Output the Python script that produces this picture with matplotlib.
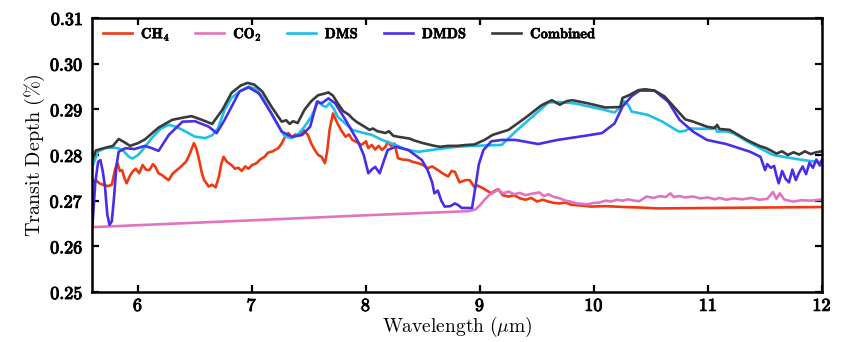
import matplotlib
matplotlib.use("Agg")
import matplotlib.pyplot as plt
import matplotlib.patheffects as pe
from matplotlib.ticker import FuncFormatter

plt.rcParams['mathtext.fontset'] = 'cm'
plt.rcParams['font.family'] = ['DejaVu Serif']

# ---------------- data ----------------
combined_x = [5.60, 5.63, 5.70, 5.78, 5.83, 5.88, 5.93, 6.00, 6.06, 6.18, 6.30, 6.40, 6.47, 6.56, 6.65,
              6.74, 6.82, 6.90, 6.96, 7.02, 7.09, 7.17, 7.26, 7.30, 7.33, 7.36, 7.40, 7.46, 7.52, 7.58,
              7.63, 7.67, 7.71, 7.75, 7.80, 7.85, 7.88, 7.92, 7.96, 8.00, 8.03, 8.06, 8.10, 8.14, 8.17,
              8.20, 8.24, 8.28, 8.33, 8.38, 8.42, 8.46, 8.50, 8.55, 8.60, 8.65, 8.72, 8.80, 8.88, 8.95,
              9.04, 9.11, 9.25, 9.39, 9.54, 9.63, 9.70, 9.76, 9.81, 9.95, 10.10, 10.23, 10.25, 10.30,
              10.39, 10.45, 10.53, 10.62, 10.71, 10.80, 10.87, 10.99, 11.06, 11.08, 11.10, 11.19, 11.34,
              11.45, 11.51, 11.55, 11.60, 11.65, 11.70, 11.75, 11.80, 11.85, 11.90, 11.95, 12.00]
combined_y = [0.2790, 0.2810, 0.2815, 0.2820, 0.2835, 0.2828, 0.2820, 0.2826, 0.2834, 0.2860, 0.2877,
              0.2882, 0.2885, 0.2877, 0.2868, 0.2899, 0.2936, 0.2952, 0.2958, 0.2954, 0.2939, 0.2906,
              0.2873, 0.2876, 0.2868, 0.2874, 0.2870, 0.2899, 0.2918, 0.2931, 0.2934, 0.2937, 0.2930,
              0.2914, 0.2896, 0.2888, 0.2880, 0.2872, 0.2866, 0.2860, 0.2855, 0.2858, 0.2852, 0.2850,
              0.2848, 0.2852, 0.2842, 0.2840, 0.2838, 0.2836, 0.2832, 0.2829, 0.2826, 0.2823, 0.2820,
              0.2818, 0.2820, 0.2820, 0.2822, 0.2823, 0.2833, 0.2844, 0.2855, 0.2880, 0.2909, 0.2920,
              0.2910, 0.2918, 0.2920, 0.2913, 0.2904, 0.2905, 0.2925, 0.2930, 0.2942, 0.2944, 0.2941,
              0.2928, 0.2903, 0.2878, 0.2873, 0.2862, 0.2859, 0.2866, 0.2857, 0.2855, 0.2833, 0.2820,
              0.2815, 0.2810, 0.2803, 0.2808, 0.2800, 0.2806, 0.2801, 0.2808, 0.2802, 0.2806, 0.2808]

dms_x = [5.60, 5.65, 5.71, 5.80, 5.86, 5.92, 5.95, 6.00, 6.04, 6.12, 6.20, 6.27, 6.33, 6.39, 6.50,
         6.59, 6.65, 6.70, 6.76, 6.82, 6.89, 6.97, 7.03, 7.09, 7.20, 7.29, 7.35, 7.40, 7.46, 7.52,
         7.58, 7.62, 7.65, 7.68, 7.72, 7.75, 7.88, 7.95, 8.05, 8.15, 8.26, 8.35, 8.46, 8.55, 8.69,
         8.80, 8.93, 9.19, 9.31, 9.46, 9.60, 9.70, 9.83, 10.07, 10.18, 10.23, 10.26, 10.30, 10.33,
         10.47, 10.60, 10.71, 10.75, 10.80, 10.84, 11.04, 11.06, 11.08, 11.15, 11.22, 11.37, 11.57,
         11.78, 11.95, 12.00]
dms_y = [0.2775, 0.2808, 0.2815, 0.2816, 0.2812, 0.2796, 0.2792, 0.2800, 0.2811, 0.2837, 0.2858,
         0.2866, 0.2862, 0.2855, 0.2840, 0.2837, 0.2843, 0.2858, 0.2899, 0.2925, 0.2939, 0.2950,
         0.2945, 0.2928, 0.2877, 0.2840, 0.2837, 0.2844, 0.2862, 0.2884, 0.2917, 0.2908, 0.2905,
         0.2914, 0.2900, 0.2884, 0.2855, 0.2850, 0.2844, 0.2832, 0.2822, 0.2812, 0.2807, 0.2810,
         0.2815, 0.2818, 0.2820, 0.2822, 0.2851, 0.2884, 0.2915, 0.2916, 0.2913, 0.2900, 0.2893,
         0.2905, 0.2918, 0.2910, 0.2895, 0.2888, 0.2873, 0.2856, 0.2851, 0.2853, 0.2858, 0.2857,
         0.2862, 0.2851, 0.2852, 0.2848, 0.2826, 0.2800, 0.2791, 0.2785, 0.2784]

dmds_x = [5.600, 5.625, 5.650, 5.670, 5.690, 5.710, 5.730, 5.750, 5.770, 5.790, 5.810, 5.830, 5.890,
          5.970, 6.060, 6.120, 6.180, 6.270, 6.390, 6.500, 6.620, 6.690, 6.760, 6.890, 6.970, 7.060,
          7.170, 7.260, 7.350, 7.440, 7.510, 7.570, 7.610, 7.670, 7.730, 7.820, 7.930, 7.980, 8.020,
          8.050, 8.080, 8.120, 8.160, 8.190, 8.260, 8.370, 8.490, 8.540, 8.580, 8.600, 8.630, 8.660,
          8.690, 8.740, 8.780, 8.810, 8.840, 8.930, 8.960, 8.990, 9.030, 9.100, 9.190, 9.310, 9.510,
          9.680, 9.920, 10.070, 10.180, 10.250, 10.330, 10.400, 10.530, 10.650, 10.750, 10.870,
          10.990, 11.160, 11.370, 11.460, 11.500, 11.52, 11.55, 11.58, 11.60, 11.62, 11.65, 11.68,
          11.71, 11.74, 11.77, 11.80, 11.83, 11.86, 11.89, 11.92, 11.95, 11.98, 12.00]
dmds_y = [0.2645, 0.2740, 0.2785, 0.2789, 0.2765, 0.2731, 0.2670, 0.2647, 0.2655, 0.2709, 0.2775,
          0.2807, 0.2815, 0.2813, 0.2820, 0.2815, 0.2809, 0.2844, 0.2873, 0.2874, 0.2862, 0.2848,
          0.2877, 0.2939, 0.2948, 0.2935, 0.2891, 0.2851, 0.2840, 0.2844, 0.2862, 0.2917, 0.2913,
          0.2924, 0.2913, 0.2877, 0.2829, 0.2800, 0.2760, 0.2768, 0.2774, 0.2760, 0.2790, 0.2811,
          0.2818, 0.2811, 0.2789, 0.2767, 0.2740, 0.2716, 0.2722, 0.2700, 0.2687, 0.2688, 0.2694,
          0.2690, 0.2684, 0.2684, 0.2731, 0.2780, 0.2811, 0.2830, 0.2833, 0.2833, 0.2824, 0.2833,
          0.2842, 0.2848, 0.2869, 0.2906, 0.2929, 0.2941, 0.2941, 0.2917, 0.2877, 0.2851, 0.2833,
          0.2824, 0.2807, 0.2796, 0.2767, 0.2780, 0.2772, 0.2776, 0.2755, 0.2738, 0.2765, 0.2748,
          0.2740, 0.2768, 0.2745, 0.2762, 0.2775, 0.2758, 0.2783, 0.2772, 0.2790, 0.2777, 0.2790]

ch4_x = [5.60, 5.63, 5.66, 5.70, 5.74, 5.77, 5.80, 5.82, 5.84, 5.86, 5.88, 5.90, 5.93, 5.95, 5.98,
         6.01, 6.04, 6.07, 6.10, 6.13, 6.15, 6.18, 6.21, 6.24, 6.27, 6.30, 6.33, 6.36, 6.39, 6.42,
         6.45, 6.49, 6.51, 6.53, 6.56, 6.58, 6.62, 6.65, 6.68, 6.71, 6.73, 6.75, 6.78, 6.82, 6.85,
         6.88, 6.91, 6.94, 6.97, 7.00, 7.04, 7.07, 7.11, 7.14, 7.18, 7.23, 7.26, 7.29, 7.32, 7.35,
         7.38, 7.42, 7.45, 7.49, 7.52, 7.55, 7.58, 7.61, 7.64, 7.66, 7.68, 7.71, 7.73, 7.75, 7.78,
         7.82, 7.85, 7.88, 7.92, 7.96, 8.00, 8.02, 8.05, 8.08, 8.11, 8.14, 8.17, 8.19, 8.22, 8.25,
         8.28, 8.32, 8.37, 8.41, 8.46, 8.50, 8.54, 8.58, 8.63, 8.67, 8.72, 8.75, 8.78, 8.82, 8.87,
         8.91, 8.95, 8.98, 9.02, 9.06, 9.10, 9.13, 9.16, 9.20, 9.25, 9.30, 9.35, 9.40, 9.45, 9.50,
         9.55, 9.60, 9.65, 9.70, 9.75, 9.80, 9.90, 9.97, 10.10, 10.27, 10.40, 10.56, 11.00, 11.50, 12.00]
ch4_y = [0.2742, 0.2745, 0.2738, 0.2734, 0.2732, 0.2735, 0.2770, 0.2782, 0.2765, 0.2767, 0.2750,
         0.2738, 0.2755, 0.2763, 0.2770, 0.2760, 0.2778, 0.2768, 0.2767, 0.2780, 0.2775, 0.2760,
         0.2756, 0.2750, 0.2745, 0.2758, 0.2765, 0.2771, 0.2778, 0.2785, 0.2800, 0.2826, 0.2815,
         0.2796, 0.2760, 0.2745, 0.2731, 0.2735, 0.2729, 0.2753, 0.2780, 0.2796, 0.2785, 0.2778,
         0.2770, 0.2772, 0.2765, 0.2775, 0.2770, 0.2778, 0.2782, 0.2790, 0.2796, 0.2805, 0.2808,
         0.2815, 0.2825, 0.2840, 0.2848, 0.2838, 0.2845, 0.2843, 0.2855, 0.2844, 0.2825, 0.2811,
         0.2800, 0.2796, 0.2782, 0.2810, 0.2855, 0.2891, 0.2880, 0.2869, 0.2855, 0.2840, 0.2845,
         0.2833, 0.2828, 0.2822, 0.2830, 0.2815, 0.2822, 0.2812, 0.2820, 0.2811, 0.2818, 0.2829,
         0.2820, 0.2825, 0.2793, 0.2790, 0.2789, 0.2785, 0.2782, 0.2778, 0.2771, 0.2775, 0.2767,
         0.2760, 0.2753, 0.2765, 0.2763, 0.2740, 0.2745, 0.2745, 0.2730, 0.2733, 0.2728, 0.2722,
         0.2716, 0.2722, 0.2725, 0.2712, 0.2709, 0.2712, 0.2705, 0.2702, 0.2706, 0.2698, 0.2702,
         0.2698, 0.2695, 0.2694, 0.2696, 0.2691, 0.2689, 0.2687, 0.2688, 0.2686, 0.2685, 0.2683,
         0.2684, 0.2685, 0.2686]

co2_x = [5.60, 7.00, 8.00, 8.90, 8.96, 9.00, 9.04, 9.08, 9.12, 9.16, 9.20, 9.25, 9.30, 9.35, 9.40,
         9.45, 9.52, 9.56, 9.60, 9.64, 9.70, 9.75, 9.79, 9.85, 9.94, 10.00, 10.05, 10.10, 10.15,
         10.20, 10.25, 10.30, 10.35, 10.40, 10.46, 10.52, 10.58, 10.63, 10.67, 10.70, 10.75, 10.80,
         10.87, 10.93, 11.00, 11.06, 11.10, 11.16, 11.22, 11.30, 11.38, 11.45, 11.52, 11.57, 11.60,
         11.63, 11.67, 11.75, 11.82, 11.90, 11.98, 12.00]
co2_y = [0.2642, 0.2657, 0.2668, 0.2677, 0.2681, 0.2690, 0.2702, 0.2712, 0.2718, 0.2724, 0.2716,
         0.2720, 0.2714, 0.2717, 0.2712, 0.2715, 0.2718, 0.2710, 0.2714, 0.2709, 0.2705, 0.2700,
         0.2698, 0.2694, 0.2692, 0.2695, 0.2696, 0.2700, 0.2698, 0.2702, 0.2700, 0.2703, 0.2700,
         0.2699, 0.2709, 0.2706, 0.2710, 0.2708, 0.2716, 0.2708, 0.2710, 0.2707, 0.2709, 0.2705,
         0.2707, 0.2703, 0.2706, 0.2702, 0.2705, 0.2703, 0.2706, 0.2702, 0.2704, 0.2719, 0.2704,
         0.2716, 0.2702, 0.2698, 0.2701, 0.2700, 0.2702, 0.2703]

series = [
    (r'$\mathbf{CH_4}$', ch4_x, ch4_y, '#ee3a12'),
    (r'$\mathbf{CO_2}$', co2_x, co2_y, '#e074c0'),
    (r'$\mathbf{DMS}$', dms_x, dms_y, '#1ec0e8'),
    (r'$\mathbf{DMDS}$', dmds_x, dmds_y, '#4a2ee6'),
    (r'$\mathbf{Combined}$', combined_x, combined_y, '#3a3a3a'),
]

x_ticks = [6, 7, 8, 9, 10, 11, 12]
y_ticks = [0.25, 0.26, 0.27, 0.28, 0.29, 0.30, 0.31]

# ---------------- plot ----------------
fig = plt.figure(figsize=(8.45, 3.42), dpi=100)
ax = fig.add_axes([0.1094, 0.1462, 0.8634, 0.8012])

for label, xs, ys, c in series:
    ax.plot(xs, ys, color=c, lw=1.9, label=label)

ax.set_xlim(5.6, 12)
ax.set_ylim(0.25, 0.31)
ax.set_xticks(x_ticks)
ax.set_yticks(y_ticks)
ax.xaxis.set_major_formatter(FuncFormatter(lambda v, p: r'$\mathbf{%d}$' % round(v)))
ax.yaxis.set_major_formatter(FuncFormatter(lambda v, p: r'$\mathbf{%.2f}$' % v))
ax.tick_params(direction='in', top=True, right=True, length=5, width=1.6, labelsize=13)
ax.tick_params(axis='x', pad=3.5)
ax.tick_params(axis='y', pad=6.5)
bold = [pe.withStroke(linewidth=0.7, foreground='black')]
for t in ax.get_xticklabels() + ax.get_yticklabels():
    t.set_path_effects(bold)
for s in ax.spines.values():
    s.set_linewidth(1.8)

ax.set_xlabel(r'$\mathrm{Wavelength\ (}\mu\mathrm{m)}$', fontsize=14)
ax.set_ylabel(r'$\mathrm{Transit\ Depth\ (\%)}$', fontsize=14.5)
ax.xaxis.set_label_coords(0.5, -0.085)
ax.yaxis.set_label_coords(-0.062, 0.5)

leg = ax.legend(loc='center left', ncol=5, frameon=False, fontsize=10.5,
                handlelength=2.0, columnspacing=1.7, handletextpad=0.6,
                bbox_to_anchor=(0.0145, 0.9416), borderaxespad=0, borderpad=0)
for t in leg.get_texts():
    t.set_path_effects([pe.withStroke(linewidth=0.4, foreground='black')])

fig.savefig('out.png', dpi=100)
